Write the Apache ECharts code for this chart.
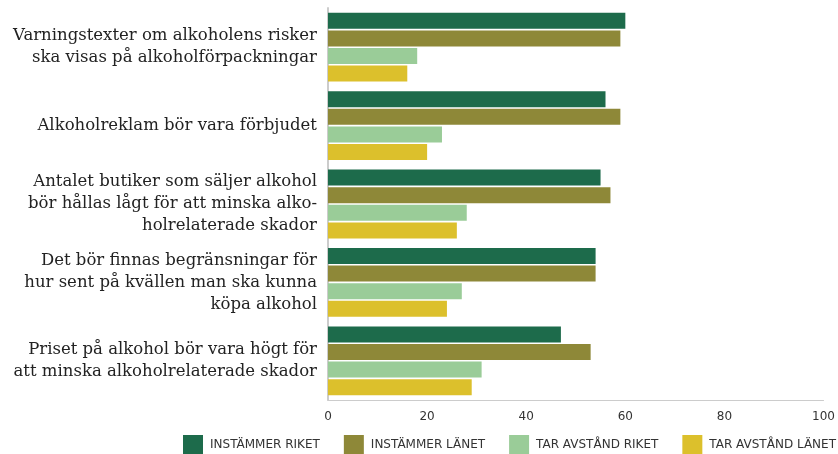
<!DOCTYPE html>
<html>
<head>
<meta charset="utf-8">
<script src="https://cdn.jsdelivr.net/npm/echarts@6/dist/echarts.min.js"></script>
<style>
  html, body { margin: 0; padding: 0; background: #fff; }
  #chart { width: 838px; height: 454px; }
</style>
</head>
<body>
<div id="chart"></div>
<script>
const categories = [
  'Varningstexter om alkoholens risker\nska visas på alkoholförpackningar',
  'Alkoholreklam bör vara förbjudet',
  'Antalet butiker som säljer alkohol\nbör hållas lågt för att minska alko-\nholrelaterade skador',
  'Det bör finnas begränsningar för\nhur sent på kvällen man ska kunna\nköpa alkohol',
  'Priset på alkohol bör vara högt för\natt minska alkoholrelaterade skador'
];
const seriesNames = ['INSTÄMMER RIKET', 'INSTÄMMER LÄNET', 'TAR AVSTÅND RIKET', 'TAR AVSTÅND LÄNET'];
const instammerRiket = [60, 56, 55, 54, 47];
const instammerLanet = [59, 59, 57, 54, 53];
const tarAvstandRiket = [18, 23, 28, 27, 31];
const tarAvstandLanet = [16, 20, 26, 24, 29];
const colors = ['#1d6b4b', '#8e8838', '#9acc98', '#dcc02c'];

const chart = echarts.init(document.getElementById('chart'));
const values = [instammerRiket, instammerLanet, tarAvstandRiket, tarAvstandLanet];

chart.setOption({
  animation: false,
  color: colors,
  grid: { left: 328, right: 11, top: 8, bottom: 54 },
  legend: {
    data: seriesNames,
    top: 430,
    right: -3,
    itemWidth: 20,
    itemHeight: 19,
    itemGap: 24,
    icon: 'rect',
    textStyle: { fontFamily: 'DejaVu Sans', fontSize: 12, color: '#333', padding: [0, 0, 0, 2] }
  },
  xAxis: {
    type: 'value',
    min: 0,
    max: 100,
    interval: 20,
    axisLine: { show: true, lineStyle: { color: '#cccccc', width: 1 } },
    axisTick: { show: false },
    splitLine: { show: false },
    axisLabel: { fontFamily: 'DejaVu Sans', fontSize: 12, color: '#333', margin: 11 }
  },
  yAxis: {
    type: 'category',
    inverse: true,
    data: categories,
    axisLine: { show: true, lineStyle: { color: '#cccccc', width: 2 } },
    axisTick: { show: false },
    axisLabel: {
      fontFamily: 'DejaVu Serif',
      fontSize: 16.5,
      lineHeight: 22,
      color: '#222',
      align: 'right',
      margin: 11
    }
  },
  series: seriesNames.map((name, i) => ({
    name: name,
    type: 'bar',
    data: values[i],
    barWidth: 16,
    barGap: '10%',
    itemStyle: { color: colors[i] }
  }))
});
</script>
</body>
</html>
